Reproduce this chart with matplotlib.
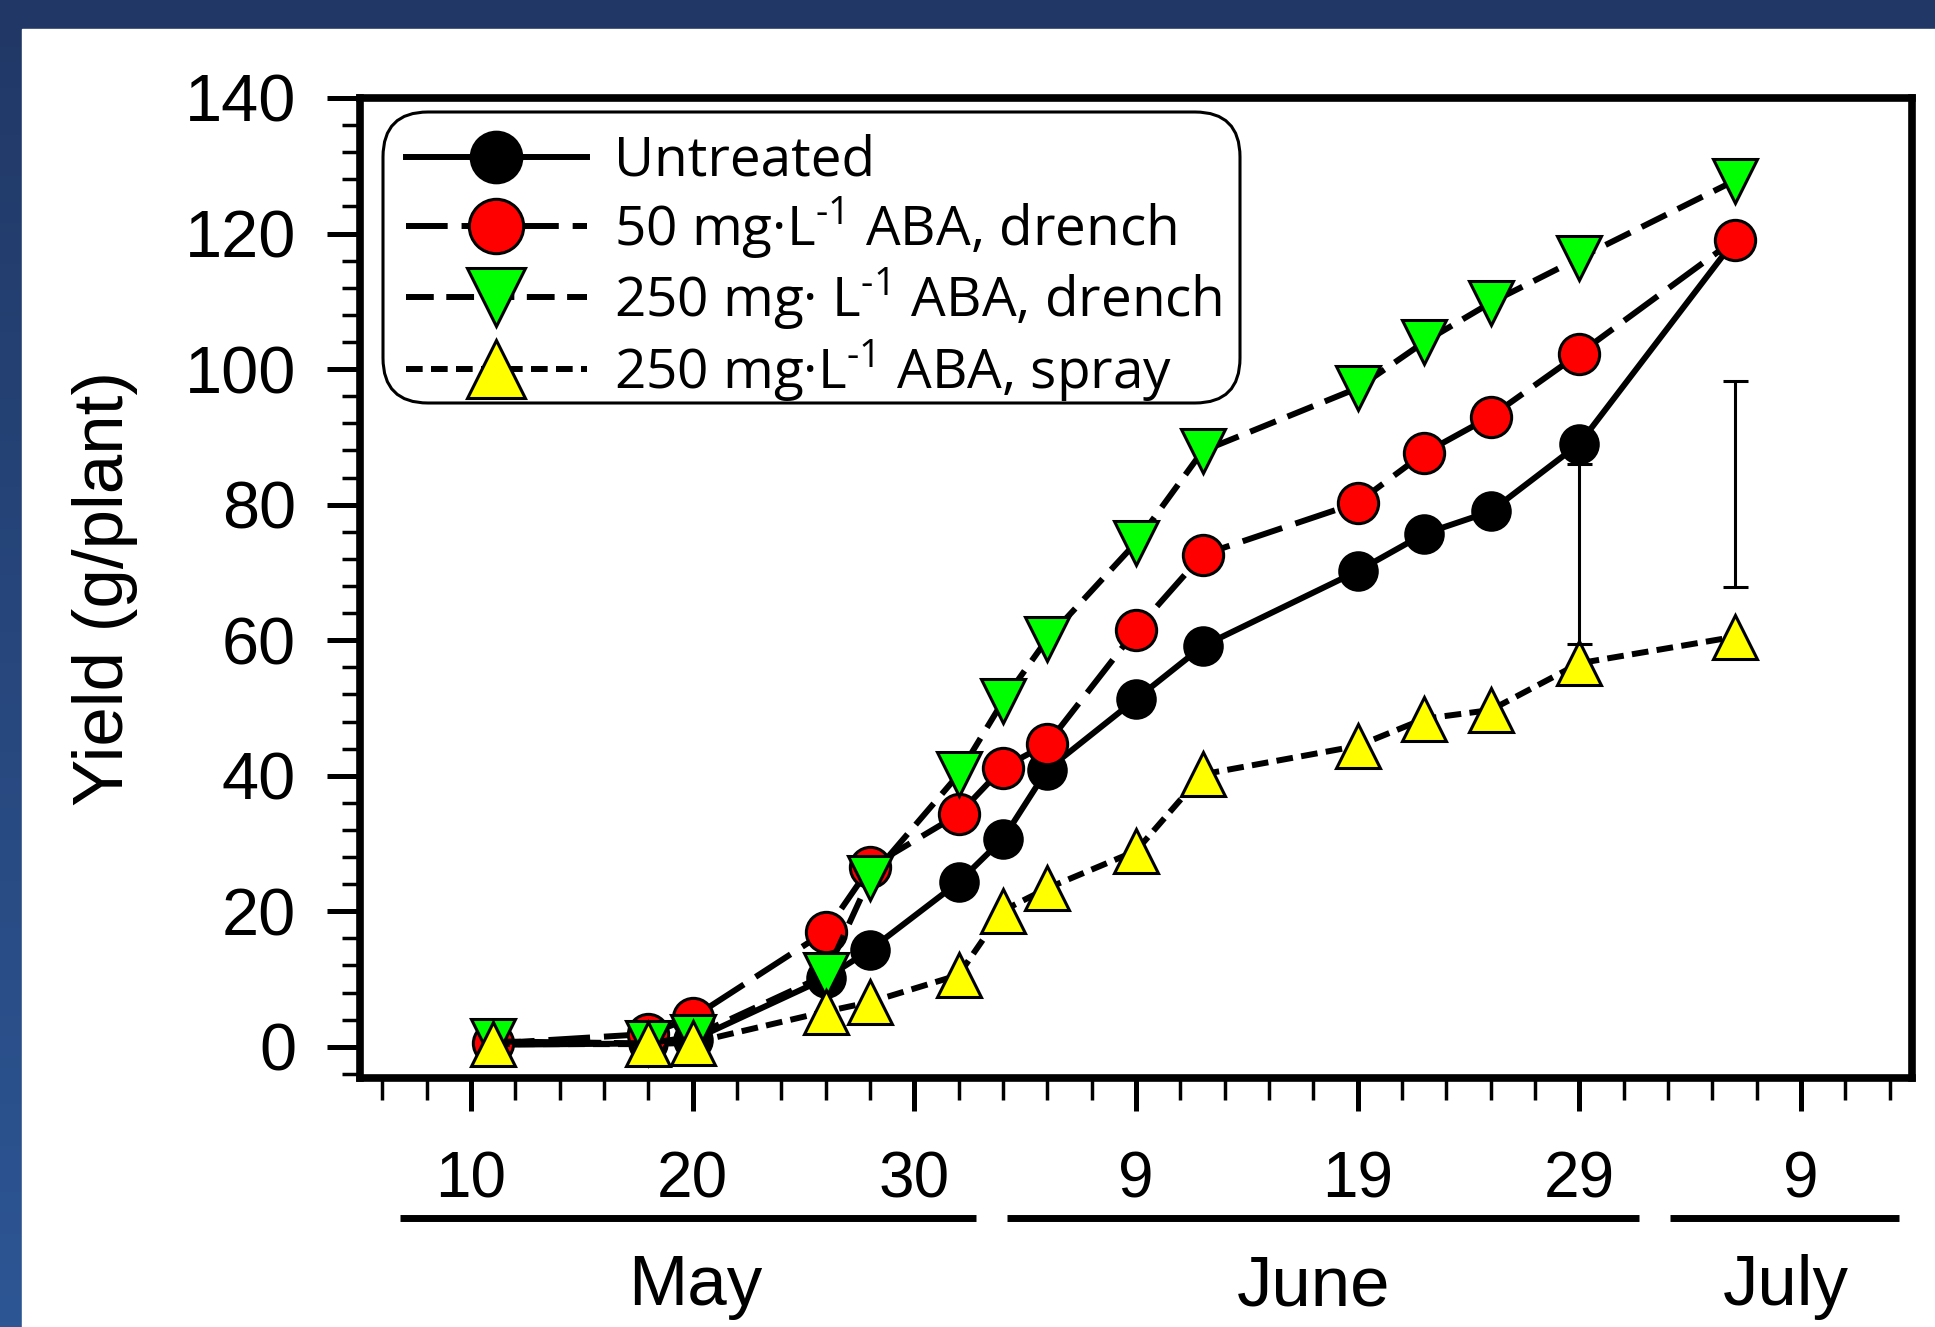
import numpy as np
import matplotlib.pyplot as plt
from matplotlib.colors import LinearSegmentedColormap
from matplotlib.patches import Rectangle, FancyBboxPatch
from matplotlib.ticker import MultipleLocator
from matplotlib.transforms import IdentityTransform

# day number counted from 1 May (June 9 = 40, July 9 = 70)
days = [11, 18, 20, 26, 28, 32, 34, 36, 40, 43, 50, 53, 56, 60, 67]
untreated = [0.3, 0.5, 1.0, 10.1, 14.3, 24.3, 30.7, 40.9, 51.3, 59.1, 70.2, 75.7, 79.0, 89.0, 119.0]
aba50_drench = [0.5, 1.9, 4.3, 17.0, 26.5, 34.3, 41.2, 44.7, 61.5, 72.6, 80.3, 87.6, 93.0, 102.3, 119.1]
aba250_drench = [0.8, 0.5, 1.5, 10.6, 24.9, 40.2, 51.0, 60.2, 74.4, 87.9, 97.2, 104.0, 109.8, 116.4, 127.8]
aba250_spray = [0.4, 0.4, 0.6, 5.2, 6.6, 10.6, 20.1, 23.4, 28.9, 40.2, 44.4, 48.4, 49.7, 56.6, 60.5]

# free standing bars
bar_days = [60, 67]
bar_mid = [72.7, 83.0]
bar_half = [13.3, 15.2]

tick_days = [10, 20, 30, 40, 50, 60, 70]
tick_labels = ['10', '20', '30', '9', '19', '29', '9']
months = ['May', 'June', 'July']
month_mid = [20.1, 48.0, 69.3]
month_span = [(6.8, 32.8), (34.2, 62.7), (64.1, 74.4)]

labels = ['Untreated',
          r'50 mg·L$^{\text{-1}}$ ABA, drench',
          r'250 mg· L$^{\text{-1}}$ ABA, drench',
          r'250 mg·L$^{\text{-1}}$ ABA, spray']

plt.rcParams['lines.scale_dashes'] = False
plt.rcParams['mathtext.fontset'] = 'custom'
plt.rcParams['mathtext.rm'] = 'Open Sans'
plt.rcParams['font.family'] = ['Liberation Sans', 'DejaVu Sans']

W, H = 1935, 1327
fig = plt.figure(figsize=(W / 100, H / 100), dpi=100)

# blue frame behind a white panel
bg = fig.add_axes([0, 0, 1, 1], zorder=-10)
grad = np.linspace(0, 1, 256).reshape(-1, 1)
cmap = LinearSegmentedColormap.from_list('bg', ['#213866', '#2d5694'])
bg.imshow(grad, aspect='auto', cmap=cmap, extent=[0, 1, 0, 1], origin='upper')
bg.add_patch(Rectangle((22 / W, 0), 1, 1 - 29 / H, color='white', transform=bg.transAxes))
bg.set_xlim(0, 1)
bg.set_ylim(0, 1)
bg.axis('off')

ax = fig.add_axes([360 / W, 249 / H, 1552 / W, 980 / H])

lw = 4.3
mew = 2.2
styles = [
    dict(color='black', ls='-', marker='o', mfc='black', ms=27),
    dict(color='black', ls=(0, (30, 10)), marker='o', mfc='#ff0000', ms=29),
    dict(color='black', ls=(0, (20, 9)), marker='v', mfc='#00ff00', ms=31),
    dict(color='black', ls=(0, (12, 6)), marker='^', mfc='#ffff00', ms=31),
]
series = [untreated, aba50_drench, aba250_drench, aba250_spray]
for vals, st, lab in zip(series, styles, labels):
    ax.plot(days, vals, lw=lw, mec='black', mew=mew, label=lab, clip_on=False, **st)

ax.errorbar(bar_days, bar_mid, yerr=bar_half, fmt='none', ecolor='black',
            elinewidth=2.2, capsize=9, capthick=2.2, zorder=5)

ax.set_xlim(5, 75)
ax.set_ylim(-4.6, 140)
ax.set_xticks(tick_days)
ax.set_xticklabels(tick_labels)
ax.xaxis.set_minor_locator(MultipleLocator(2))
ax.set_yticks(range(0, 141, 20))
ax.yaxis.set_minor_locator(MultipleLocator(4))

for s in ax.spines.values():
    s.set_linewidth(5.5)
ax.tick_params(axis='both', which='both', direction='out', top=False, right=False)
ax.tick_params(axis='y', which='major', length=24, width=3.6, labelsize=48, pad=22)
ax.tick_params(axis='y', which='minor', length=13, width=2.5)
ax.tick_params(axis='x', which='major', length=24, width=3.6, labelsize=46, pad=28)
ax.tick_params(axis='x', which='minor', length=16, width=2.5)

ax.set_ylabel('Yield (g/plant)', fontsize=51)
ax.yaxis.set_label_coords(-0.143, 0.5)

trans = ax.get_xaxis_transform()
for name, mid, (x0, x1) in zip(months, month_mid, month_span):
    ax.plot([x0, x1], [-0.143, -0.143], color='black', lw=5, transform=trans,
            clip_on=False, solid_capstyle='butt')
    ax.text(mid, -0.232, name, transform=trans, ha='center', va='baseline', fontsize=51)

# rounded legend box drawn in output pixels
box = FancyBboxPatch((383, H - 403), 857, 291, boxstyle='round,pad=0,rounding_size=45',
                     transform=IdentityTransform(), facecolor='white', edgecolor='black',
                     linewidth=2.2, zorder=4, clip_on=False)
ax.add_patch(box)

leg = ax.legend(loc='upper left', bbox_to_anchor=(0.0296, 0.9633), borderaxespad=0,
                prop={'family': 'Open Sans', 'size': 39.5}, numpoints=1, markerscale=1.35,
                handlelength=3.3, handletextpad=0.5, borderpad=0, labelspacing=0.09,
                frameon=False)
leg.set_zorder(6)

fig.savefig('out.png', dpi=100)
